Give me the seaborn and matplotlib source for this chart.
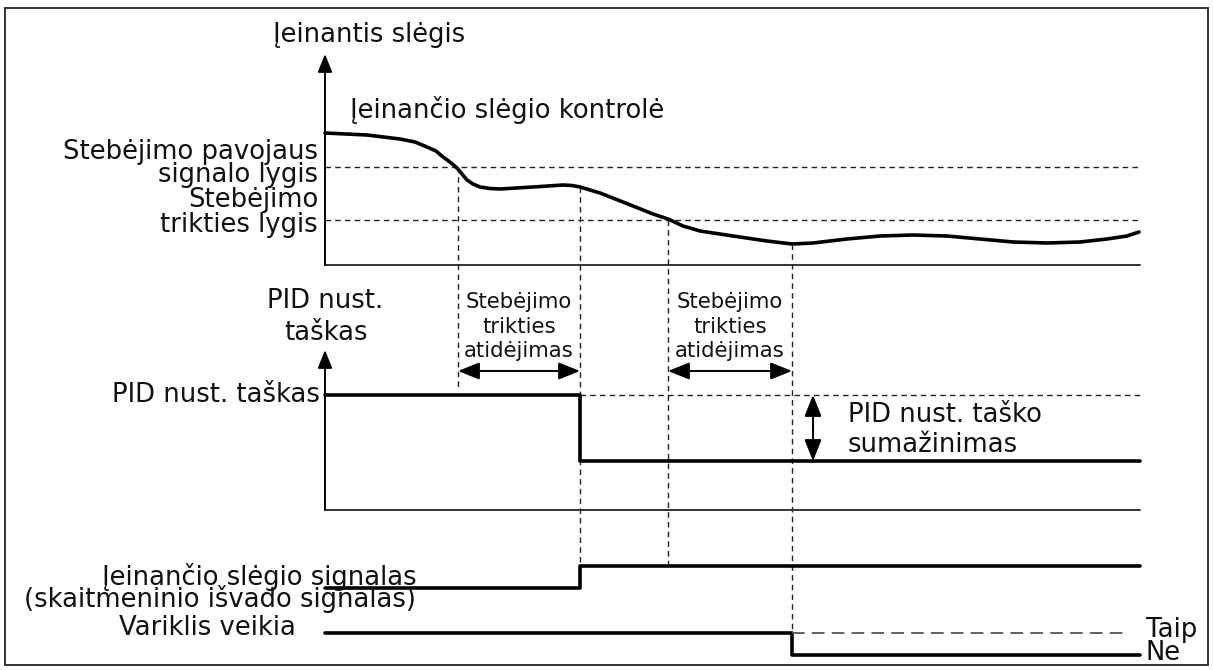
import matplotlib
matplotlib.use("Agg")
import matplotlib.pyplot as plt
import seaborn as sns
import pandas as pd
from matplotlib.patches import Rectangle

sns.set_theme(style="white")
plt.rcParams['font.family'] = ['DejaVu Sans']

# ---------------- data (diagram units: x = time, y = vertical position, y grows downward) ----------------
curve_x = [325, 367, 400, 415, 427, 436, 443, 450, 457, 462, 467, 473, 480, 490, 500, 533, 563, 572,
           580, 600, 633, 653, 668, 683, 700, 733, 767, 792, 813, 847, 880, 913, 947, 980, 1013,
           1047, 1080, 1107, 1127, 1139]
curve_y = [133, 135, 139, 142, 147, 151, 157, 162, 168, 174, 180, 184, 187, 188.5, 189, 187, 185, 185.5,
           187, 193, 206, 214, 219, 226, 231, 236, 241, 244, 243, 239, 236, 235, 236, 239, 242,
           243, 242, 239, 236, 232]
alarm_level = 167
fault_level = 220
t_alarm, t_fault1, t_fault2, t_stop = 458, 580, 668, 792
x_start, x_end = 325, 1140

pid_high, pid_low = 395, 461
sig_low, sig_high = 588, 566
motor_on, motor_off = 633, 655

top_axis_y, mid_axis_y = 265, 510

W, H = 1213, 670
fig = plt.figure(figsize=(W / 100, H / 100), dpi=100)
ax = fig.add_axes([0, 0, 1, 1])

K = "black"
FS = 18.6
FS_S = 15.3
LW = 2.6

def finish():
    ax.set_xlim(0, W)
    ax.set_ylim(H, 0)
    ax.axis("off")

finish()

# border
ax.add_patch(Rectangle((5, 8), 1203, 657, fill=False, lw=1.4, ec="#333333"))

def dash(x0, y0, x1, y1, color="#222222", lw=1.0, d=(4, 3)):
    ax.plot([x0, x1], [y0, y1], color=color, lw=lw, dashes=d)

def arrow_up(x, y0, y1):
    ax.annotate("", xy=(x, y1), xytext=(x, y0),
                arrowprops=dict(arrowstyle="-|>,head_length=0.55,head_width=0.22", color=K, lw=1.4,
                                shrinkA=0, shrinkB=0, mutation_scale=20))

def double_arrow(x0, y0, x1, y1):
    ax.annotate("", xy=(x1, y1), xytext=(x0, y0),
                arrowprops=dict(arrowstyle="<|-|>,head_length=0.65,head_width=0.26", color=K, lw=1.5,
                                shrinkA=0, shrinkB=0, mutation_scale=20))

def txt(x, y, s, ha="left", fs=FS):
    ax.text(x, y, s, ha=ha, va="baseline", fontsize=fs, color="#111111")

# ---------------- top panel ----------------
arrow_up(x_start, top_axis_y, 54)
ax.plot([x_start, x_end], [top_axis_y, top_axis_y], color="#333333", lw=1.4)
dash(x_start, alarm_level, x_end, alarm_level)
dash(x_start, fault_level, x_end, fault_level)
df = pd.DataFrame({"x": curve_x, "y": curve_y})
sns.lineplot(data=df, x="x", y="y", ax=ax, color=K, lw=LW, sort=False, estimator=None)
finish()

txt(273, 42, "Įeinantis slėgis")
txt(350, 118, "Įeinančio slėgio kontrolė")
txt(318, 159, "Stebėjimo pavojaus", "right")
txt(318, 182, "signalo lygis", "right")
txt(318, 207, "Stebėjimo", "right")
txt(318, 232, "trikties lygis", "right")

# vertical dashed event lines
dash(t_alarm, alarm_level, t_alarm, 388)
dash(t_fault1, 187, t_fault1, sig_high)
dash(t_fault2, fault_level, t_fault2, sig_high)
dash(t_stop, 244, t_stop, motor_on)

# ---------------- middle panel ----------------
arrow_up(x_start, mid_axis_y, 350)
ax.plot([x_start, x_end], [mid_axis_y, mid_axis_y], color="#333333", lw=1.4)
txt(325, 308, "PID nust.", "center")
txt(326, 340, "taškas", "center")
txt(320, 402, "PID nust. taškas", "right")

dash(t_fault1, pid_high, x_end, pid_high)
pid = pd.DataFrame({"x": [x_start, t_fault1, t_fault1, x_end],
                    "y": [pid_high, pid_high, pid_low, pid_low]})
sns.lineplot(data=pid, x="x", y="y", ax=ax, color=K, lw=LW, sort=False, estimator=None)
finish()

for xa, xb in [(t_alarm, t_fault1), (t_fault2, t_stop)]:
    double_arrow(xa, 371, xb, 371)
    xc = (xa + xb) / 2
    txt(xc, 308, "Stebėjimo", "center", FS_S)
    txt(xc, 333, "trikties", "center", FS_S)
    txt(xc, 357, "atidėjimas", "center", FS_S)

double_arrow(813, pid_high, 813, pid_low)
txt(848, 422, "PID nust. taško")
txt(848, 452, "sumažinimas")

# ---------------- bottom signals ----------------
sig = pd.DataFrame({"x": [x_start, t_fault1, t_fault1, x_end],
                    "y": [sig_low, sig_low, sig_high, sig_high]})
sns.lineplot(data=sig, x="x", y="y", ax=ax, color=K, lw=LW, sort=False, estimator=None)
mot = pd.DataFrame({"x": [x_start, t_stop, t_stop, x_end],
                    "y": [motor_on, motor_on, motor_off, motor_off]})
sns.lineplot(data=mot, x="x", y="y", ax=ax, color=K, lw=LW, sort=False, estimator=None)
dash(t_stop, motor_on, 1128, motor_on, color="#555555", lw=1.3, d=(7, 4))
finish()

txt(417, 585, "Įeinančio slėgio signalas", "right")
txt(416, 607, "(skaitmeninio išvado signalas)", "right")
txt(296, 635, "Variklis veikia", "right")
txt(1146, 637, "Taip")
txt(1146, 660, "Ne")

legend = ax.get_legend()
if legend is not None:
    legend.remove()

fig.savefig("out.png", dpi=100)
